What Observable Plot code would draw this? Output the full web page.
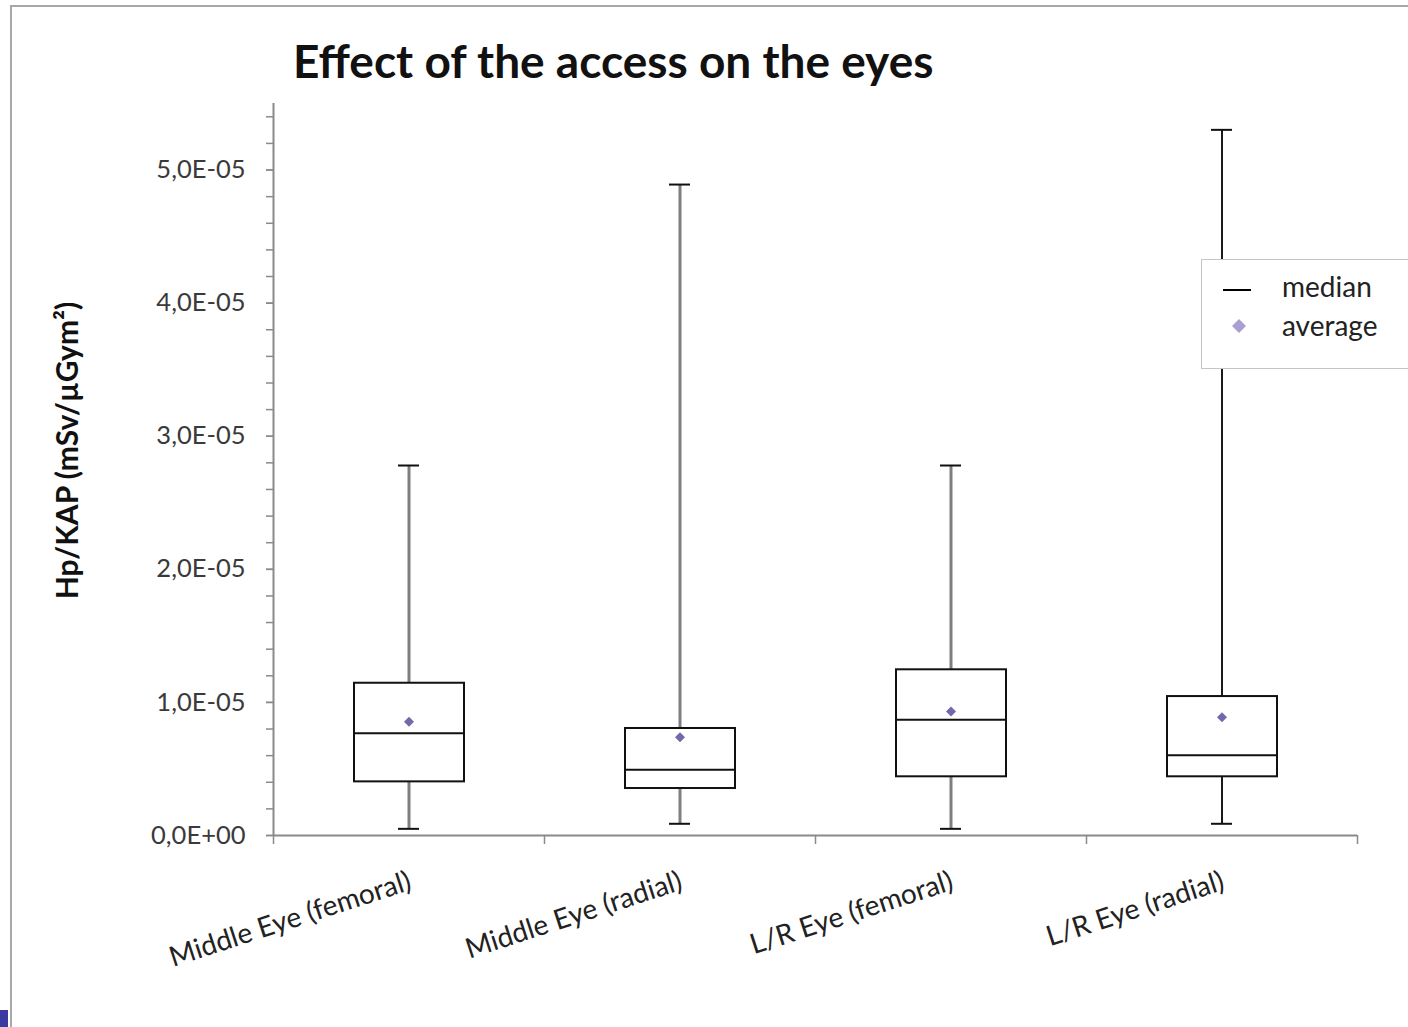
<!DOCTYPE html>
<html><head><meta charset="utf-8">
<script src="https://cdn.jsdelivr.net/npm/d3@7"></script>
<script src="https://cdn.jsdelivr.net/npm/@observablehq/plot@0.6"></script>
<style>
body{margin:0;background:#fff;font-family:Lato,"Open Sans",sans-serif}
#wrap{position:relative;width:1408px;height:1027px;overflow:hidden;background:#fff}
#frame{position:absolute;left:10px;top:5px;width:1500px;height:1100px;border-left:2px solid #a8a8a8;border-top:2px solid #a8a8a8}
#corner{position:absolute;left:0;top:1010px;width:8px;height:17px;background:#3a3aa0}
#title{position:absolute;left:293px;top:33px;font-weight:bold;font-size:46px;color:#111;white-space:nowrap}
#chart{position:absolute;left:0;top:100px}
#legend{position:absolute;left:1201px;top:259px;width:240px;height:108px;border:1px solid #c4c4c4;background:#fff}
#legend .row{position:absolute;left:0;font-size:28px;color:#222}
#legend .lbl{position:absolute;left:80px;white-space:nowrap}
</style></head>
<body>
<div id="wrap">
  <div id="frame"></div>
  <div id="corner"></div>
  <div id="title">Effect of the access on the eyes</div>
  <div id="chart"></div>
  <div id="legend">
    <svg width="60" height="108" style="position:absolute;left:0;top:0">
      <line x1="21" x2="49" y1="30" y2="30" stroke="#000" stroke-width="2"/>
      <path d="M37,59 L44,66 L37,73 L30,66 Z" fill="#ab9fd2"/>
    </svg>
    <div class="row" style="top:9px"><span class="lbl">median</span></div>
    <div class="row" style="top:48px"><span class="lbl">average</span></div>
  </div>
</div>
<script>
const categories = ["Middle Eye (femoral)", "Middle Eye (radial)", "L/R Eye (femoral)", "L/R Eye (radial)"];
const whiskerLow  = [0.050e-5, 0.088e-5, 0.050e-5, 0.088e-5];
const boxLow      = [0.403e-5, 0.353e-5, 0.441e-5, 0.441e-5];
const medians     = [0.769e-5, 0.494e-5, 0.869e-5, 0.603e-5];
const boxHigh     = [1.144e-5, 0.804e-5, 1.245e-5, 1.044e-5];
const whiskerHigh = [2.780e-5, 4.891e-5, 2.780e-5, 5.302e-5];
const averages    = [0.854e-5, 0.739e-5, 0.932e-5, 0.889e-5];
const yTicks = [0, 1e-5, 2e-5, 3e-5, 4e-5, 5e-5];
const yMinorTicks = d3.range(0, 28).map(i => i * 0.2e-5);
const yMax = 5.5e-5;
const yLabel = "Hp/KAP (mSv/µGym²)";

const stats = categories.map((cat, i) => ({
  cat, lo: whiskerLow[i], q1: boxLow[i], median: medians[i], q3: boxHigh[i], hi: whiskerHigh[i], mean: averages[i]
}));

const W = 1408, H = 927, ML = 273, MR = 51, MT = 3, MB = 192;
const bw = (W - ML - MR) / categories.length;
const fmt = d => {
  const [m, e] = d.toExponential(1).split("e");
  const sign = e[0] === "-" ? "-" : "+";
  const ex = e.replace(/[+-]/, "").padStart(2, "0");
  return m.replace(".", ",") + "E" + sign + ex;
};
const whiskerColor = d => d.cat === "L/R Eye (radial)" ? "#1a1a1a" : "#7f7f7f";
const whiskerWidth = d => d.cat === "L/R Eye (radial)" ? 2 : 3;

const chart = Plot.plot({
  width: W, height: H,
  marginLeft: ML, marginRight: MR, marginTop: MT, marginBottom: MB,
  style: {fontFamily: "Lato, 'Open Sans', sans-serif", background: "transparent", overflow: "visible"},
  x: {type: "band", domain: categories, padding: 0, axis: null, label: null},
  y: {domain: [0, yMax], axis: null, label: null},
  marks: [
    // y axis minor + major ticks
    Plot.axisY(yMinorTicks, {tickSize: 7, tickFormat: () => "", label: null, stroke: "#8a8a8a", strokeWidth: 1.5}),
    Plot.axisY(yTicks, {tickSize: 7, tickPadding: 21, tickFormat: fmt, label: null, fontSize: 25.5, fill: "#3a3a3a", stroke: "#8a8a8a", strokeWidth: 1.5}),
    // y axis line
    Plot.ruleX([{cat: categories[0], lo: 0, hi: yMax}], {x: "cat", dx: -bw / 2, y1: "hi", y2: "lo", stroke: "#8a8a8a", strokeWidth: 2}),
    // x axis line and boundary ticks
    Plot.ruleY([0], {stroke: "#8a8a8a", strokeWidth: 2}),
    Plot.axisX(categories, {tickSize: 9, dx: -bw / 2, tickFormat: () => "", label: null, stroke: "#8a8a8a", strokeWidth: 1.5}),
    Plot.axisX([categories[categories.length - 1]], {tickSize: 9, dx: bw / 2, tickFormat: () => "", label: null, stroke: "#8a8a8a", strokeWidth: 1.5}),
    // x labels
    Plot.axisX(categories, {tickSize: 0, tickPadding: 45, tickRotate: -18, fontSize: 28, fill: "#222", dx: 1, label: null}),
    // y label
    Plot.text([yLabel], {frameAnchor: "left", text: d => d, rotate: -90, textAnchor: "middle", dx: -205, dy: -19, fontSize: 30, fontWeight: "bold", fill: "#111"}),
    // whiskers
    Plot.ruleX(stats, {x: "cat", y1: "q3", y2: "hi", stroke: whiskerColor, strokeWidth: whiskerWidth}),
    Plot.ruleX(stats, {x: "cat", y1: "lo", y2: "q1", stroke: whiskerColor, strokeWidth: whiskerWidth}),
    Plot.tickY(stats, {x: "cat", y: "hi", insetLeft: 125, insetRight: 125, stroke: "#111", strokeWidth: 2}),
    Plot.tickY(stats, {x: "cat", y: "lo", insetLeft: 125, insetRight: 125, stroke: "#111", strokeWidth: 2}),
    // boxes
    Plot.barY(stats, {x: "cat", y1: "q1", y2: "q3", insetLeft: 81, insetRight: 80, fill: "white", stroke: "#111", strokeWidth: 2}),
    Plot.tickY(stats, {x: "cat", y: "median", insetLeft: 81, insetRight: 80, stroke: "#111", strokeWidth: 2}),
    Plot.dot(stats, {x: "cat", y: "mean", symbol: "diamond2", r: 4.5, fill: "#7468aa", stroke: "none"})
  ]
});
document.getElementById("chart").appendChild(chart);
</script>
</body></html>
